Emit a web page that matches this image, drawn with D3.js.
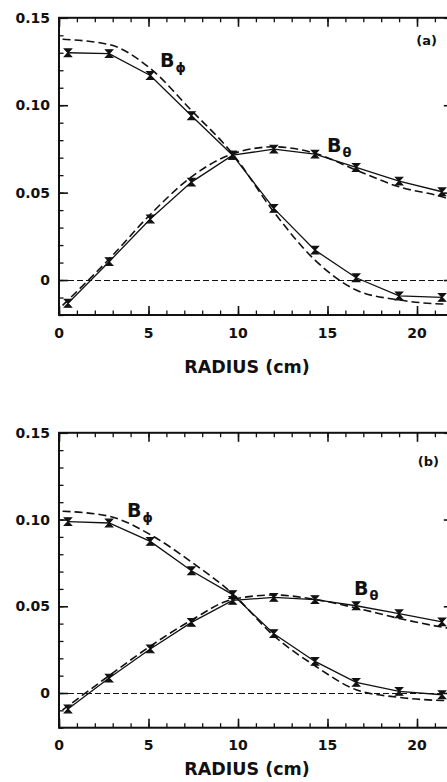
<!DOCTYPE html>
<html>
<head>
<meta charset="utf-8">
<script src="https://cdn.jsdelivr.net/npm/d3@7/dist/d3.min.js"></script>
<style>
  html, body { margin: 0; padding: 0; background: #fff; }
  svg { display: block; }
  text { font-family: "DejaVu Sans", "Liberation Sans", Arial, sans-serif; font-weight: bold; fill: #111; }
</style>
</head>
<body>
<svg id="chart" width="447" height="782"></svg>
<script>
// Radial positions of the probe measurements (cm)
const radius = [0.5, 2.8, 5.1, 7.4, 9.7, 12.0, 14.3, 16.6, 19.0, 21.4];
// Radial positions of the model curves (cm)
const radiusModel = [0.2, 2.8, 5.1, 7.4, 9.7, 12.0, 14.3, 16.6, 19.0, 21.4, 22.0];

// Panel (a)
const aBphiMeas   = [0.130, 0.1295, 0.117, 0.094, 0.0714, 0.041, 0.0171, 0.0013, -0.0091, -0.0099];
const aBthetaMeas = [-0.0133, 0.0105, 0.0349, 0.056, 0.0714, 0.0749, 0.072, 0.0644, 0.0566, 0.0505];
const aBphiModel   = [0.1377, 0.1347, 0.121, 0.097, 0.0722, 0.039, 0.0114, -0.0057, -0.0114, -0.0137, -0.0138];
const aBthetaModel = [-0.0145, 0.012, 0.0375, 0.059, 0.0722, 0.0762, 0.0725, 0.0629, 0.0533, 0.0476, 0.0455];

// Panel (b)
const bBphiMeas   = [0.0988, 0.098, 0.0874, 0.0705, 0.0567, 0.0342, 0.0182, 0.0061, 0.0009, -0.001];
const bBthetaMeas = [-0.0092, 0.0086, 0.0254, 0.0407, 0.0534, 0.0551, 0.0538, 0.0503, 0.0457, 0.041];
const bBphiModel   = [0.1048, 0.1019, 0.0913, 0.0755, 0.0572, 0.033, 0.0157, 0.0019, -0.0025, -0.0043, -0.0044];
const bBthetaModel = [-0.0098, 0.0100, 0.0270, 0.0420, 0.0540, 0.0565, 0.0540, 0.0490, 0.0430, 0.0380, 0.0370];

const xTicks = [0, 5, 10, 15, 20];
const yTicks = [0, 0.05, 0.10, 0.15];
const yTickLabels = ["0", "0.05", "0.10", "0.15"];
const errHalf = 0.0022;

const svg = d3.select("#chart");

const panels = [
  { tag: "(a)", top: 17.8, bottom: 315, phiM: aBphiMeas, thM: aBthetaMeas, phiT: aBphiModel, thT: aBthetaModel,
    phiLbl: [160, 67], thLbl: [327, 152], tagPos: [437, 45], tickY: 338, titleY: 373 },
  { tag: "(b)", top: 432.8, bottom: 727.7, phiM: bBphiMeas, thM: bBthetaMeas, phiT: bBphiModel, thT: bBthetaModel,
    phiLbl: [127, 517], thLbl: [354, 595], tagPos: [439, 466], tickY: 750, titleY: 775 }
];

panels.forEach(p => {
  const x = d3.scaleLinear().domain([0, 22]).range([59, 452.8]);
  const y = d3.scaleLinear().domain([-0.02, 0.15]).range([p.bottom, p.top]);
  const g = svg.append("g");

  // Frame
  g.append("rect")
    .attr("x", x(0)).attr("y", y(0.15))
    .attr("width", x(22) - x(0)).attr("height", y(-0.02) - y(0.15))
    .attr("fill", "none").attr("stroke", "#111").attr("stroke-width", 2);

  // Inward ticks: bottom and top axes
  const xMinor = d3.range(0, 23, 1);
  [
    { axis: d3.axisBottom(x), tr: `translate(0,${y(-0.02)})` },
    { axis: d3.axisTop(x), tr: `translate(0,${y(0.15)})` }
  ].forEach(t => {
    g.append("g").attr("transform", t.tr)
      .call(t.axis.tickValues(xMinor).tickSize(-4.5).tickFormat(""))
      .call(s => s.select(".domain").remove())
      .call(s => s.selectAll("line").attr("stroke", "#111").attr("stroke-width", 1.3));
    g.append("g").attr("transform", t.tr)
      .call(t.axis.tickValues(xTicks).tickSize(-9).tickFormat(""))
      .call(s => s.select(".domain").remove())
      .call(s => s.selectAll("line").attr("stroke", "#111").attr("stroke-width", 1.6));
  });

  // Inward ticks: left and right axes
  const yMinor = d3.range(-0.02, 0.1501, 0.01);
  [
    { axis: d3.axisLeft(y), tr: `translate(${x(0)},0)` },
    { axis: d3.axisRight(y), tr: `translate(${x(22)},0)` }
  ].forEach(t => {
    g.append("g").attr("transform", t.tr)
      .call(t.axis.tickValues(yMinor).tickSize(-4.5).tickFormat(""))
      .call(s => s.select(".domain").remove())
      .call(s => s.selectAll("line").attr("stroke", "#111").attr("stroke-width", 1.3));
    g.append("g").attr("transform", t.tr)
      .call(t.axis.tickValues(yTicks).tickSize(-9).tickFormat(""))
      .call(s => s.select(".domain").remove())
      .call(s => s.selectAll("line").attr("stroke", "#111").attr("stroke-width", 1.6));
  });

  // Tick labels
  g.selectAll(".xl").data(xTicks).enter().append("text")
    .attr("x", d => x(d)).attr("y", p.tickY)
    .attr("text-anchor", "middle").attr("font-size", 14).text(d => d);
  g.selectAll(".yl").data(yTicks).enter().append("text")
    .attr("x", 50).attr("y", d => y(d) + 5)
    .attr("text-anchor", "end").attr("font-size", 14)
    .text((d, i) => yTickLabels[i]);

  // Axis title
  g.append("text").attr("x", 247).attr("y", p.titleY)
    .attr("text-anchor", "middle").attr("font-size", 17.5).text("RADIUS (cm)");

  // Zero reference line
  const y0 = Math.round(y(0)) + 0.5;
  g.append("line")
    .attr("x1", x(0)).attr("x2", x(22)).attr("y1", y0).attr("y2", y0)
    .attr("stroke", "#111").attr("stroke-width", 1.2).attr("stroke-dasharray", "6,3");

  // Model curves (dashed)
  const lineT = d3.line().x((d, i) => x(radiusModel[i])).y(d => y(d)).curve(d3.curveMonotoneX);
  [p.phiT, p.thT].forEach(arr => {
    g.append("path").attr("d", lineT(arr))
      .attr("fill", "none").attr("stroke", "#111").attr("stroke-width", 1.6)
      .attr("stroke-dasharray", "8,4");
  });

  // Measured profiles (solid) with error bars
  const lineM = d3.line().x((d, i) => x(radius[i])).y(d => y(d));
  [p.phiM, p.thM].forEach(arr => {
    g.append("path").attr("d", lineM(arr))
      .attr("fill", "none").attr("stroke", "#111").attr("stroke-width", 1.3);
    g.selectAll(null).data(arr).enter().append("path")
      .attr("d", (d, i) => {
        const cx = x(radius[i]), y1 = y(d + errHalf), y2 = y(d - errHalf);
        return `M${cx - 3.5},${y1}L${cx + 3.5},${y1}L${cx},${y(d)}Z M${cx - 3.5},${y2}L${cx + 3.5},${y2}L${cx},${y(d)}Z`;
      })
      .attr("fill", "#111").attr("stroke", "#111").attr("stroke-width", 1.2);
  });

  // Curve labels
  const lbl = (pos, sub) => {
    const t = g.append("text").attr("x", pos[0]).attr("y", pos[1]).attr("font-size", 19);
    t.append("tspan").text("B");
    t.append("tspan").attr("font-size", 13).attr("dy", 5).attr("dx", 1).text(sub);
  };
  lbl(p.phiLbl, "\u03d5");
  lbl(p.thLbl, "\u03b8");

  g.append("text").attr("x", p.tagPos[0]).attr("y", p.tagPos[1])
    .attr("text-anchor", "end").attr("font-size", 13).text(p.tag);
});
</script>
</body>
</html>
